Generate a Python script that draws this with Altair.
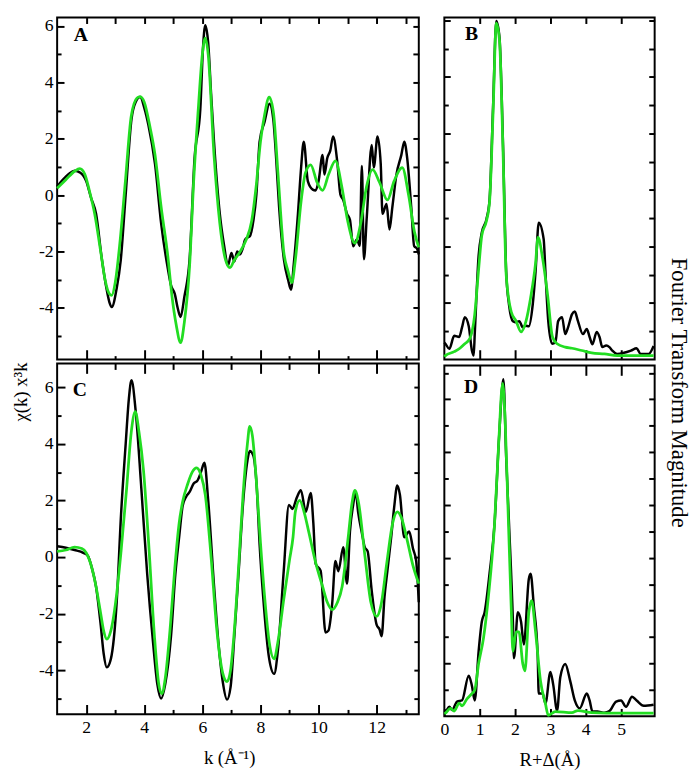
import altair as alt
import pandas as pd

FONT = "Liberation Serif"
GREEN = "#22dd22"

# ---------------- Panel A (k-space, top) ----------------
A_BLACK_K = [1.0,1.2,1.4,1.6,1.8,2.0,2.17,2.34,2.54,2.68,2.8,2.88,3.05,3.19,3.36,3.56,3.7,3.86,4.0,4.14,4.37,4.58,4.81,4.92,5.05,5.15,5.25,5.38,5.56,5.73,5.93,6.02,6.1,6.2,6.3,6.4,6.6,6.75,6.88,7.0,7.1,7.2,7.29,7.4,7.46,7.55,7.63,7.76,7.86,7.97,8.14,8.31,8.44,8.54,8.64,8.81,8.95,9.05,9.15,9.29,9.4,9.49,9.63,9.8,9.9,10.0,10.14,10.2,10.3,10.4,10.5,10.64,10.75,10.85,10.98,11.08,11.19,11.32,11.42,11.49,11.56,11.66,11.83,11.9,12.03,12.14,12.2,12.34,12.44,12.54,12.68,12.85,12.95,13.05,13.19,13.29,13.39,13.45]
A_BLACK_Y = [0.3,0.55,0.75,0.87,0.8,0.5,-0.1,-0.66,-2.27,-3.2,-3.8,-3.97,-3.3,-2.3,0.03,2.7,3.3,3.48,3.1,2.5,1.1,-1.0,-2.6,-3.2,-3.5,-4.0,-4.32,-3.6,-2.27,1.3,3.07,5.2,6.03,5.4,3.6,1.9,-0.66,-1.8,-2.5,-2.05,-2.35,-2.0,-2.1,-1.85,-1.6,-1.5,-1.46,-0.87,0.03,1.9,2.6,3.24,2.7,1.3,-0.4,-2.3,-3.0,-3.35,-2.4,-0.66,1.0,1.9,0.5,0.2,0.17,0.5,1.43,0.73,1.32,1.57,2.08,1.22,0.03,-0.17,-0.66,-0.87,-1.81,-1.57,-1.8,1.04,-2.27,-0.77,1.78,0.98,2.08,1.1,-0.66,-0.31,-1.22,-0.42,0.73,1.43,1.9,1.32,-0.42,-1.8,-1.9,-2.1]
A_GREEN_K = [1.0,1.3,1.6,1.78,1.95,2.1,2.3,2.5,2.65,2.8,2.88,3.0,3.15,3.35,3.55,3.75,3.86,4.0,4.2,4.37,4.58,4.81,4.95,5.1,5.25,5.38,5.56,5.7,5.86,6.0,6.1,6.2,6.4,6.6,6.8,6.95,7.1,7.3,7.5,7.7,7.85,8.0,8.15,8.3,8.45,8.6,8.8,8.95,9.08,9.2,9.4,9.55,9.73,9.95,10.14,10.35,10.58,10.8,11.0,11.25,11.45,11.65,11.86,12.1,12.37,12.6,12.88,13.1,13.3,13.45]
A_GREEN_Y = [0.25,0.55,0.85,0.94,0.75,0.2,-0.7,-2.0,-3.0,-3.5,-3.55,-3.1,-1.8,0.5,2.8,3.45,3.5,3.3,2.4,1.43,-0.42,-2.16,-3.55,-4.6,-5.23,-4.5,-2.5,0.5,3.07,5.0,5.57,5.0,1.43,-1.0,-2.3,-2.57,-2.3,-2.0,-1.6,-0.9,0.3,1.9,2.9,3.48,2.9,0.8,-2.0,-2.7,-3.1,-2.3,-0.2,0.8,1.08,0.45,0.17,0.75,1.22,0.3,-0.9,-1.7,-1.0,0.3,0.91,0.45,-0.17,0.5,0.98,0.0,-1.3,-1.85]

# ---------------- Panel C (k-space, bottom) ----------------
C_BLACK_K = [1.0,1.3,1.6,1.9,2.05,2.2,2.34,2.5,2.6,2.71,2.85,3.05,3.2,3.36,3.47,3.56,3.7,3.9,4.1,4.3,4.45,4.58,4.72,4.92,5.07,5.2,5.32,5.45,5.56,5.7,5.83,5.95,6.07,6.2,6.4,6.55,6.7,6.85,6.97,7.1,7.25,7.4,7.55,7.63,7.75,7.87,7.97,8.1,8.3,8.47,8.6,8.8,8.98,9.1,9.25,9.39,9.56,9.73,9.82,9.9,10.07,10.24,10.34,10.47,10.58,10.68,10.85,10.98,11.08,11.19,11.28,11.36,11.5,11.59,11.69,11.83,12.0,12.1,12.17,12.27,12.37,12.5,12.6,12.71,12.8,12.95,13.12,13.25,13.36,13.45]
C_BLACK_Y = [0.38,0.33,0.25,0.15,0.05,-0.4,-1.05,-2.4,-3.4,-3.9,-3.6,-1.6,1.5,4.0,5.6,6.25,5.2,2.4,-0.6,-3.0,-4.5,-5.0,-4.5,-2.8,-0.6,0.7,1.8,2.15,2.3,2.6,2.7,3.0,3.33,2.0,-1.0,-3.0,-4.4,-5.04,-4.6,-2.8,-0.5,1.9,3.4,3.75,3.6,2.5,0.45,-1.5,-3.6,-4.13,-3.3,-0.5,1.84,1.7,2.1,2.36,1.6,2.26,1.2,-0.24,-0.48,-2.67,-2.6,-1.63,-0.14,-0.5,0.35,-0.94,0.9,1.84,2.3,1.6,0.8,0.35,0.2,-1.2,-2.4,-2.56,-2.8,-1.4,-0.48,0.7,1.74,2.53,2.2,0.7,0.9,0.3,-0.14,-1.6]
C_GREEN_K = [1.0,1.3,1.6,1.85,2.0,2.2,2.34,2.5,2.6,2.71,2.85,3.05,3.2,3.39,3.55,3.69,3.82,3.97,4.15,4.35,4.5,4.6,4.72,4.9,5.05,5.2,5.32,5.5,5.65,5.8,5.95,6.1,6.3,6.5,6.7,6.85,6.97,7.1,7.25,7.4,7.55,7.63,7.72,7.85,8.0,8.15,8.3,8.47,8.6,8.8,9.0,9.12,9.2,9.35,9.5,9.66,9.9,10.14,10.3,10.47,10.65,10.81,11.02,11.15,11.25,11.38,11.6,11.8,12.0,12.15,12.35,12.55,12.71,12.85,13.05,13.25,13.45]
C_GREEN_Y = [0.2,0.25,0.35,0.3,0.15,-0.4,-1.05,-2.0,-2.6,-2.9,-2.6,-1.3,0.2,2.4,4.4,5.14,4.4,3.1,0.5,-2.8,-4.5,-4.83,-4.3,-2.4,-0.4,1.2,1.95,2.6,3.0,3.15,2.9,2.2,0.0,-2.6,-4.1,-4.4,-4.0,-2.6,-0.3,2.2,4.0,4.62,4.3,2.8,0.5,-1.5,-3.0,-3.6,-3.0,-1.5,-0.1,0.7,1.6,2.0,1.6,0.9,-0.2,-1.05,-1.6,-1.86,-1.6,-1.05,0.7,1.9,2.36,1.9,0.0,-1.6,-2.1,-1.7,-0.2,1.2,1.6,1.4,0.6,-0.3,-0.94]

# ---------------- Panel B (R-space, top) ----------------
B_BLACK_R = [0.0,0.03,0.14,0.28,0.42,0.5,0.58,0.69,0.78,0.83,0.86,0.97,1.06,1.19,1.28,1.38,1.47,1.56,1.66,1.75,1.83,1.89,1.94,2.03,2.12,2.22,2.3,2.39,2.5,2.58,2.67,2.81,2.86,2.94,3.05,3.14,3.22,3.33,3.42,3.5,3.61,3.69,3.78,3.92,4.03,4.11,4.19,4.31,4.39,4.47,4.58,4.67,4.75,4.89,5.08,5.28,5.44,5.55,5.64,5.78,5.92]
B_BLACK_Y = [0.3,0.28,0.19,0.42,0.4,0.57,0.75,0.59,0.16,0.07,0.45,1.84,2.25,2.48,2.83,4.5,5.99,5.7,3.8,1.55,0.97,0.75,0.68,0.66,0.68,0.57,0.6,0.59,0.97,1.55,2.42,2.13,1.55,0.68,0.28,0.3,0.68,0.75,0.45,0.57,0.8,0.85,0.68,0.45,0.54,0.4,0.27,0.49,0.4,0.22,0.25,0.22,0.16,0.1,0.12,0.16,0.2,0.1,0.1,0.1,0.24]
B_GREEN_R = [0.0,0.03,0.28,0.44,0.58,0.72,0.86,0.97,1.06,1.19,1.28,1.38,1.47,1.56,1.66,1.75,1.89,2.03,2.17,2.31,2.44,2.58,2.65,2.78,2.92,3.06,3.19,3.42,3.61,3.89,4.17,4.53,4.89,5.44,5.92]
B_GREEN_Y = [0.05,0.07,0.14,0.2,0.28,0.37,0.8,1.6,2.2,2.45,2.8,4.4,5.95,5.65,3.7,1.5,0.85,0.68,0.49,0.68,1.09,1.7,2.16,1.79,1.15,0.4,0.28,0.22,0.2,0.16,0.12,0.1,0.07,0.07,0.07]

# ---------------- Panel D (R-space, bottom) ----------------
D_BLACK_R = [0.0,0.03,0.14,0.22,0.36,0.5,0.69,0.78,0.86,0.97,1.06,1.14,1.28,1.42,1.55,1.67,1.75,1.83,1.94,1.97,2.08,2.17,2.25,2.39,2.44,2.53,2.64,2.67,2.78,2.86,3.0,3.08,3.19,3.28,3.42,3.56,3.69,3.83,4.03,4.11,4.19,4.33,4.53,4.67,4.86,5.0,5.14,5.31,5.44,5.64,5.92]
D_BLACK_Y = [0.1,0.09,0.18,0.12,0.28,0.3,0.77,0.58,0.3,1.23,1.79,1.97,2.71,3.64,5.3,6.38,4.89,3.64,1.79,1.1,1.97,1.79,1.36,2.6,2.7,2.1,1.17,0.43,0.43,0.24,0.84,0.6,0.11,0.74,0.99,0.67,0.3,0.15,0.43,0.3,0.09,0.09,0.07,0.1,0.28,0.3,0.18,0.37,0.3,0.2,0.22]
D_GREEN_R = [0.0,0.03,0.17,0.28,0.42,0.5,0.64,0.78,0.86,0.97,1.11,1.25,1.42,1.54,1.65,1.72,1.8,1.89,1.94,2.03,2.11,2.22,2.28,2.39,2.47,2.58,2.72,2.86,2.94,3.14,3.61,3.78,4.17,5.0,5.92]
D_GREEN_Y = [0.05,0.06,0.15,0.1,0.25,0.2,0.33,0.43,0.5,1.0,1.49,2.29,3.64,5.2,6.3,5.6,3.96,2.1,1.23,1.6,1.6,0.99,0.86,1.97,2.19,1.6,0.67,0.24,0.02,0.09,0.07,0.11,0.07,0.06,0.06]

# ---------------- tick positions ----------------
K_MAJOR = [2, 4, 6, 8, 10, 12]
K_MINOR = [3, 5, 7, 9, 11, 13]
K_ALL = list(range(2, 14))
CHI_MAJOR = [-4, -2, 0, 2, 4, 6]
CHI_MINOR = [-5, -3, -1, 1, 3, 5]
CHI_ALL = list(range(-5, 7))
R_LABELS = [0, 1, 2, 3, 4, 5]
R_INNER = [1, 2, 3, 4, 5]
FT_MAJOR = [1, 2, 3, 4, 5, 6]
FT_MINOR = [0.5, 1.5, 2.5, 3.5, 4.5, 5.5, 6.5]
FT_ALL = [0.5, 1, 1.5, 2, 2.5, 3, 3.5, 4, 4.5, 5, 5.5, 6, 6.5]

HYPHEN = "replace(datum.label, '\u2212', '-')"


def tick_axis(orient, values, size, labels=False, **extra):
    params = dict(orient=orient, values=values, tickSize=size, offset=-size,
                  domain=False, grid=False, labels=labels, ticks=True,
                  tickColor="black", tickWidth=2, title=None)
    if labels:
        params.update(labelFont=FONT, labelFontSize=18, labelColor="black",
                      labelPadding=4, labelFlush=False, labelOverlap=False,
                      labelExpr=HYPHEN)
    params.update(extra)
    return alt.Axis(**params)


def panel(bx, by, gx, gy, xdom, ydom, w, h, axes, letter, lx, ly):
    xs = alt.Scale(domain=xdom, nice=False, zero=False)
    ys = alt.Scale(domain=ydom, nice=False, zero=False)
    bdf = pd.DataFrame({"x": bx, "y": by})
    gdf = pd.DataFrame({"x": gx, "y": gy})
    layers = []
    for ch, axis in axes:
        if ch == "x":
            enc = dict(x=alt.X("x:Q", scale=xs, axis=axis),
                       y=alt.Y("y:Q", scale=ys, axis=None))
        else:
            enc = dict(x=alt.X("x:Q", scale=xs, axis=None),
                       y=alt.Y("y:Q", scale=ys, axis=axis))
        layers.append(alt.Chart(bdf).mark_line(opacity=0).encode(**enc))
    layers.append(alt.Chart(bdf).mark_line(color="black", strokeWidth=2.5,
                                           interpolate="monotone").encode(
        x=alt.X("x:Q", scale=xs, axis=None), y=alt.Y("y:Q", scale=ys, axis=None)))
    layers.append(alt.Chart(gdf).mark_line(color=GREEN, strokeWidth=2.8,
                                           interpolate="monotone").encode(
        x=alt.X("x:Q", scale=xs, axis=None), y=alt.Y("y:Q", scale=ys, axis=None)))
    layers.append(alt.Chart(pd.DataFrame({"t": [letter]})).mark_text(
        font=FONT, fontSize=20, fontWeight="bold", align="left", baseline="middle",
        color="black").encode(text="t:N", x=alt.value(lx), y=alt.value(ly)))
    return alt.layer(*layers).resolve_axis(x="independent", y="independent").properties(
        width=w, height=h)


K_DOM = [1.0, 13.45]
R_DOM = [0.0, 5.95]
LW, RW = 368, 214
TOP_H, BOT_H = 348, 357

pA = panel(A_BLACK_K, A_BLACK_Y, A_GREEN_K, A_GREEN_Y, K_DOM, [-5.83, 6.3], LW, TOP_H, [
    ("y", tick_axis("left", CHI_MAJOR, 7, labels=True)),
    ("y", tick_axis("left", CHI_MINOR, 4)),
    ("y", tick_axis("right", CHI_ALL, 6)),
    ("x", tick_axis("top", K_ALL, 6)),
    ("x", tick_axis("bottom", K_MAJOR, 10)),
    ("x", tick_axis("bottom", K_MINOR, 4)),
], "A", 17, 18)

pC = panel(C_BLACK_K, C_BLACK_Y, C_GREEN_K, C_GREEN_Y, K_DOM, [-5.56, 6.84], LW, BOT_H, [
    ("y", tick_axis("left", CHI_MAJOR, 8, labels=True)),
    ("y", tick_axis("left", CHI_MINOR, 4)),
    ("y", tick_axis("right", CHI_ALL, 5)),
    ("x", tick_axis("top", K_MAJOR, 10)),
    ("x", tick_axis("top", K_MINOR, 6)),
    ("x", tick_axis("bottom", K_MAJOR, 10, labels=True, title="k (\u00c5\u207b\u00b9)",
                    titleFont=FONT, titleFontSize=19, titleColor="black",
                    titleFontWeight="normal", titlePadding=13, titleX=175)),
    ("x", tick_axis("bottom", K_MINOR, 5)),
], "C", 16, 27)

pB = panel(B_BLACK_R, B_BLACK_Y, B_GREEN_R, B_GREEN_Y, R_DOM, [0.0, 6.05], RW, TOP_H, [
    ("y", tick_axis("left", FT_MAJOR, 6)),
    ("y", tick_axis("left", FT_MINOR, 4)),
    ("y", tick_axis("right", FT_ALL, 6)),
    ("x", tick_axis("top", R_INNER, 6)),
    ("x", tick_axis("bottom", R_INNER, 10)),
], "B", 21, 17)

pD = panel(D_BLACK_R, D_BLACK_Y, D_GREEN_R, D_GREEN_Y, R_DOM, [0.0, 6.64], RW, BOT_H, [
    ("y", tick_axis("left", FT_MAJOR, 6)),
    ("y", tick_axis("left", FT_MINOR, 4)),
    ("y", tick_axis("right", FT_ALL, 6)),
    ("x", tick_axis("top", R_INNER, 10)),
    ("x", tick_axis("bottom", R_LABELS, 8, labels=True, title="R+\u0394(\u00c5)",
                    titleFont=FONT, titleFontSize=19, titleColor="black",
                    titleFontWeight="normal", titlePadding=13)),
], "D", 20, 22)

left = alt.vconcat(pA, pC, spacing=0, title=alt.TitleParams(
    "\u03c7(k) x\u00b3k", orient="left", anchor="middle", font=FONT, fontSize=19,
    fontWeight="normal", color="black", offset=7))
right = alt.vconcat(pB, pD, spacing=0, title=alt.TitleParams(
    "Fourier Transform Magnitude", orient="right", anchor="middle", font=FONT,
    fontSize=23, fontWeight="normal", color="black", offset=7))

chart = alt.hconcat(left, right, spacing=12).properties(
    padding={"left": 4, "top": 0, "right": 2, "bottom": 0}
).configure_view(stroke="black", strokeWidth=2)

chart.save("out.html", embed_options={"renderer": "svg", "actions": False})
